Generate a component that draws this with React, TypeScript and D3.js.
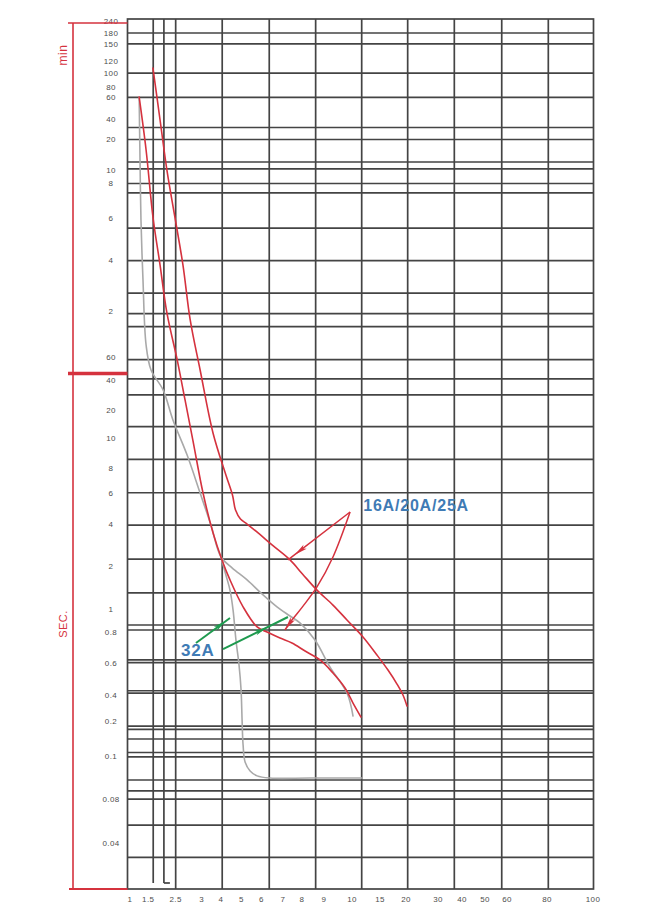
import * as d3 from "d3";

const WIDTH = 658;
const HEIGHT = 916;
const box = { left: 127.5, right: 593.5, top: 19, bottom: 889 };

// x axis: multiples of the rated current (printed paper, non-uniform spacing)
const xTicks = [1, 1.5, 2.5, 3, 4, 5, 6, 7, 8, 9, 10, 15, 20, 30, 40, 50, 60, 80, 100];
// where each x tick sits, as a share of the plot width
const xTickAt = [0.0054, 0.0446, 0.1034, 0.1592, 0.2006, 0.2446, 0.2876, 0.3337, 0.3745, 0.4217, 0.4818, 0.5418, 0.5976, 0.6663, 0.7178, 0.7672, 0.8144, 0.9002, 0.9989];

// y axis: tripping time in seconds (upper part printed in minutes)
const yTicksSec = [14400, 10800, 9000, 7200, 6000, 4800, 3600, 2400, 1200, 600, 480, 360, 240, 120, 60, 40, 20, 10, 8, 6, 4, 2, 1, 0.8, 0.6, 0.4, 0.2, 0.1, 0.08, 0.04];
const yTickLabels = ["240", "180", "150", "120", "100", "80", "60", "40", "20", "10", "8", "6", "4", "2", "60", "40", "20", "10", "8", "6", "4", "2", "1", "0.8", "0.6", "0.4", "0.2", "0.1", "0.08", "0.04"];
// where each y tick sits, as a share of the plot height
const yTickAt = [0.0023, 0.0161, 0.0287, 0.0483, 0.0621, 0.0782, 0.0902, 0.1149, 0.1385, 0.1736, 0.1891, 0.2287, 0.2778, 0.3353, 0.3882, 0.4149, 0.4494, 0.4813, 0.5161, 0.5452, 0.5805, 0.6287, 0.6785, 0.7054, 0.7399, 0.777, 0.8066, 0.8471, 0.8966, 0.9475];
const yBottomSec = 0.02;

// grid of the printed paper
const xGrid = [1.68, 2.07, 2.5, 4.06, 6.36, 8.62, 11.73, 20.53, 36.8, 57.6, 80.57];
const xGridShort = [1.68, 2.07];
const yGridSec = [10800, 9000, 6000, 3600, 1800, 1200, 720, 615, 480, 444, 327, 240, 153, 115, 94.3, 57.1, 40.7, 28.3, 13.2, 8.53, 6.04, 3.93, 2.24, 1.3, 0.861, 0.821, 0.616, 0.6, 0.422, 0.409, 0.18, 0.169, 0.1396, 0.1071, 0.0995, 0.0883, 0.0835, 0.08, 0.0532, 0.0323];

// 32A band (grey): common trunk, then upper and lower limits
const grey32Trunk: [number, number][] = [
  [1.25, 3650], [1.27, 945], [1.3, 353], [1.355, 184], [1.44, 71.6], [1.6, 47.6], [2.04, 31.8],
  [2.4, 15.6], [2.72, 8.8], [2.97, 6.02], [3.48, 3.93], [4.0, 2.32],
];
const grey32Upper: [number, number][] = [
  [4.54, 1.94], [5.28, 1.6], [6.02, 1.28], [6.72, 1.04], [7.37, 0.938], [7.89, 0.878], [8.59, 0.746],
  [9.21, 0.569], [9.82, 0.41], [10.18, 0.227],
];
const grey32Lower: [number, number][] = [
  [4.24, 1.73], [4.44, 1.36], [4.59, 0.993], [4.73, 0.746], [4.88, 0.583], [4.98, 0.426], [5.03, 0.204],
  [5.08, 0.124], [5.18, 0.0969], [5.43, 0.0925], [5.78, 0.0902], [6.4, 0.0892], [8.36, 0.0892], [11.79, 0.0892],
];

// 16A/20A/25A band (red)
const redLower: [number, number][] = [
  [1.25, 3650], [1.44, 945], [1.67, 363], [1.93, 226], [2.18, 116], [2.53, 56.6], [2.68, 25.2],
  [2.83, 9.83], [3.07, 6.02], [3.59, 3.45], [4.05, 2.21], [4.44, 1.6], [5.08, 1.04], [5.78, 0.845],
  [6.26, 0.805], [6.86, 0.76], [7.47, 0.725], [8.14, 0.671], [8.82, 0.616], [9.32, 0.527],
  [9.75, 0.437], [10.18, 0.322], [11.6, 0.221],
];
const redUpper: [number, number][] = [
  [1.67, 6470], [1.93, 2318], [2.18, 600], [2.47, 363], [2.64, 226], [2.78, 104], [2.97, 47.6],
  [3.59, 11.2], [4.24, 7.39], [4.56, 5.87], [4.71, 4.81], [4.95, 4.27], [5.28, 4.0], [5.83, 3.45],
  [6.49, 2.83], [7.37, 2.21], [8.02, 1.76], [8.68, 1.36], [9.32, 1.07], [9.82, 0.903], [11.96, 0.768],
  [14.46, 0.646], [16.54, 0.547], [18.27, 0.459], [19.42, 0.4], [20.31, 0.297],
];

// annotation leaders
const redLeader1: [number, number][] = [[9.93, 4.69], [7.26, 2.21]];
const redLeader2: [number, number][] = [[9.93, 4.69], [9.32, 2.32], [8.68, 1.43], [8.02, 1.04], [7.47, 0.903], [7.1, 0.821]];
const greenLeader1: [number, number][] = [[2.89, 0.725], [4.44, 0.92]];
const greenLeader2: [number, number][] = [[4.1, 0.684], [7.26, 0.929]];
const label16: [number, number] = [12, 5.14];
const label32: [number, number] = [2.6, 0.678];

const RED = "#d5323e";
const GREY = "#a9a9a9";
const GREEN = "#1f9a4f";
const BLUE = "#3f7bb5";
const GRID = "#444";

export default function App() {
  const w = box.right - box.left;
  const h = box.bottom - box.top;

  const x = d3
    .scaleLinear()
    .domain(xTicks)
    .range(xTickAt.map((f) => box.left + f * w));

  const yLog = d3
    .scaleLinear()
    .domain([...yTicksSec, yBottomSec].map(Math.log10))
    .range([...yTickAt, 1].map((f) => box.top + f * h));
  const y = (s: number) => yLog(Math.log10(s));

  const line = d3
    .line<[number, number]>()
    .x((d) => x(d[0]))
    .y((d) => y(d[1]))
    .curve(d3.curveCatmullRom.alpha(0.5));
  const straight = d3
    .line<[number, number]>()
    .x((d) => x(d[0]))
    .y((d) => y(d[1]));

  const arrowHead = (pts: [number, number][], t: number, color: string) => {
    const a = pts[pts.length - 2];
    const b = pts[pts.length - 1];
    const x0 = x(a[0]), y0 = y(a[1]), x1 = x(b[0]), y1 = y(b[1]);
    const len = Math.hypot(x1 - x0, y1 - y0);
    const ux = (x1 - x0) / len, uy = (y1 - y0) / len;
    const tx = x0 + (x1 - x0) * t, ty = y0 + (y1 - y0) * t;
    const L = 13, hw = 2.6;
    const bx = tx - ux * L, by = ty - uy * L;
    const pts2 = [
      [tx, ty],
      [bx - uy * hw, by + ux * hw],
      [bx + ux * 3, by + uy * 3],
      [bx + uy * hw, by - ux * hw],
    ];
    return <polygon points={pts2.map((p) => p.join(",")).join(" ")} fill={color} />;
  };

  const lastTrunk = grey32Trunk[grey32Trunk.length - 1];

  return (
    <svg
      width={WIDTH}
      height={HEIGHT}
      style={{ position: "absolute", left: 0, top: 0, background: "#fff", fontFamily: "'Liberation Sans', Arial, sans-serif" }}
    >
      {/* grid */}
      <g stroke={GRID} strokeWidth={1.7} fill="none">
        {yGridSec.map((s) => (
          <line key={`h${s}`} x1={box.left} x2={box.right} y1={y(s)} y2={y(s)} />
        ))}
        {xGrid.map((v) => (
          <line
            key={`v${v}`}
            x1={x(v)}
            x2={x(v)}
            y1={box.top}
            y2={xGridShort.includes(v) ? box.bottom - 6 : box.bottom}
          />
        ))}
        <path d={`M${x(2.07)},${box.bottom - 6}h6`} />
        <rect x={box.left} y={box.top} width={w} height={h} />
      </g>

      {/* y tick labels */}
      <g fontSize={8} fill="#4d4d4d" textAnchor="middle">
        {yTicksSec.map((s, i) => (
          <text key={`yl${i}`} x={111} y={y(s)} dy="0.35em" letterSpacing={0.4}>
            {yTickLabels[i]}
          </text>
        ))}
      </g>

      {/* x tick labels */}
      <g fontSize={8} fill="#4d4d4d" textAnchor="middle">
        {xTicks.map((v) => (
          <text key={`xl${v}`} x={x(v)} y={box.bottom + 13} letterSpacing={0.4}>
            {v}
          </text>
        ))}
      </g>

      {/* red bracket with units */}
      <g stroke={RED} fill="none">
        <line x1={73} x2={73} y1={23} y2={box.bottom} strokeWidth={1.6} />
        <line x1={68} x2={box.left} y1={23} y2={23} strokeWidth={1.6} />
        <line x1={68} x2={box.left} y1={373.5} y2={373.5} strokeWidth={3.5} />
        <line x1={69} x2={box.left} y1={box.bottom} y2={box.bottom} strokeWidth={1.8} />
      </g>
      <text transform="translate(67,55) rotate(-90)" textAnchor="middle" fontSize={12} fill={RED} letterSpacing={0.5}>
        min
      </text>
      <text transform="translate(67,624) rotate(-90)" textAnchor="middle" fontSize={11} fill={RED} letterSpacing={0.5}>
        SEC.
      </text>

      {/* curves */}
      <g fill="none" strokeWidth={1.6} strokeLinejoin="round" strokeLinecap="round">
        <path d={line([...grey32Trunk, ...grey32Upper]) ?? ""} stroke={GREY} />
        <path d={line([lastTrunk, ...grey32Lower]) ?? ""} stroke={GREY} />
        <path d={line(redLower) ?? ""} stroke={RED} />
        <path d={line(redUpper) ?? ""} stroke={RED} />
      </g>

      {/* annotations */}
      <g fill="none" strokeWidth={1.5}>
        <path d={straight(redLeader1) ?? ""} stroke={RED} />
        <path d={line(redLeader2) ?? ""} stroke={RED} />
        <path d={straight(greenLeader1) ?? ""} stroke={GREEN} strokeWidth={2} />
        <path d={straight(greenLeader2) ?? ""} stroke={GREEN} strokeWidth={2} />
      </g>
      {arrowHead(redLeader1, 0.89, RED)}
      {arrowHead(redLeader2, 0.95, RED)}
      {arrowHead(greenLeader1, 0.88, GREEN)}
      {arrowHead(greenLeader2, 0.68, GREEN)}
      <text x={x(label16[0])} y={y(label16[1])} dy="0.35em" fontSize={16} fontWeight="bold" fill={BLUE} letterSpacing={0.8}>
        16A/20A/25A
      </text>
      <text x={x(label32[0])} y={y(label32[1])} dy="0.35em" fontSize={17} fontWeight="bold" fill={BLUE} letterSpacing={0.8}>
        32A
      </text>
    </svg>
  );
}
